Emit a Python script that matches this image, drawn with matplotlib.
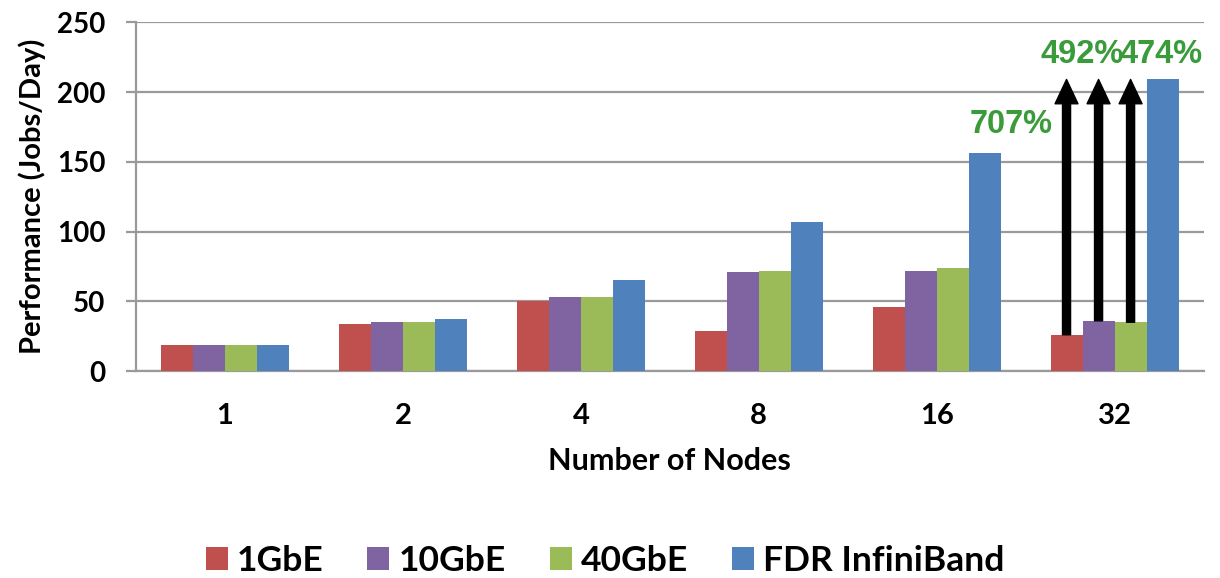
import matplotlib
matplotlib.use("Agg")
import matplotlib.pyplot as plt
from matplotlib.patches import Patch
import numpy as np

categories = ["1", "2", "4", "8", "16", "32"]
series_names = ["1GbE", "10GbE", "40GbE", "FDR InfiniBand"]
gbe1 = [19, 34, 50, 29, 46, 26]
gbe10 = [19, 35, 53, 71, 72, 36]
gbe40 = [19, 35, 53, 72, 74, 35]
fdr_ib = [19, 37, 65, 107, 156, 209]
gain_labels = ["707%", "492%", "474%"]

colors = ["#C0504D", "#8064A2", "#9BBB59", "#4F81BD"]
label_green = "#3A9B3A"
grid_gray = "#9a9a9a"

fig = plt.figure(figsize=(12.2, 5.78), dpi=100)
ax = fig.add_axes([0.1115, 0.358, 0.875, 0.6035])

series = [gbe1, gbe10, gbe40, fdr_ib]
x = np.arange(len(categories))
bw = 0.18
offsets = (np.arange(4) - 1.5) * bw
for vals, off, c in zip(series, offsets, colors):
    ax.bar(x + off, vals, width=bw, color=c, zorder=3, linewidth=0)

ax.set_xlim(-0.5, len(categories) - 0.5)
ax.set_ylim(0, 250)
ax.set_yticks(range(0, 251, 50))
ax.set_xticks(x)
ax.set_xticklabels(categories)

ax.grid(axis="y", color=grid_gray, linewidth=1.6, zorder=0)
for side in ["top", "right"]:
    ax.spines[side].set_visible(False)
for side in ["left", "bottom"]:
    ax.spines[side].set_color(grid_gray)
    ax.spines[side].set_linewidth(1.6)
ax.tick_params(axis="y", length=7, width=1.6, color=grid_gray, pad=15,
               labelsize=20)
ax.tick_params(axis="x", length=0, pad=23, labelsize=21)
for lab in ax.get_yticklabels() + ax.get_xticklabels():
    lab.set_fontfamily("Lato")
    lab.set_fontweight("bold")

ax.set_xlabel("Number of Nodes", fontsize=22, fontfamily="Lato",
              fontweight="bold", labelpad=13)
ax.set_ylabel("Performance (Jobs/Day)", fontsize=21, fontfamily="Lato",
              fontweight="bold", labelpad=8)

# arrows from the Ethernet bars up to the InfiniBand bar at 32 nodes
last = len(categories) - 1
for vals, off in zip(series[:3], offsets[:3]):
    ax.annotate("", xy=(last + off, fdr_ib[last]), xytext=(last + off, vals[last]),
                arrowprops=dict(facecolor="black", edgecolor="black", width=5.8,
                                headwidth=16.5, headlength=17.5, shrink=0),
                zorder=5)

label_pos = [(4.42, 177), (4.82, 227), (5.26, 227)]
for txt, (lx, ly) in zip(gain_labels, label_pos):
    ax.text(lx, ly, txt, ha="center", va="center", fontsize=23.5,
            fontfamily="Liberation Sans", fontweight="bold", color=label_green,
            zorder=6)

handles = [Patch(facecolor=c, edgecolor="none") for c in colors]
fig.legend(handles, series_names, loc="center",
           bbox_to_anchor=(605 / 1220, 1 - 561 / 578),
           ncol=4, frameon=False, handlelength=0.62, handleheight=0.62,
           handletextpad=0.25, columnspacing=1.25, borderpad=0,
           prop=dict(family="Lato", weight="bold", size=25.5))

fig.savefig("out.png", dpi=100)
